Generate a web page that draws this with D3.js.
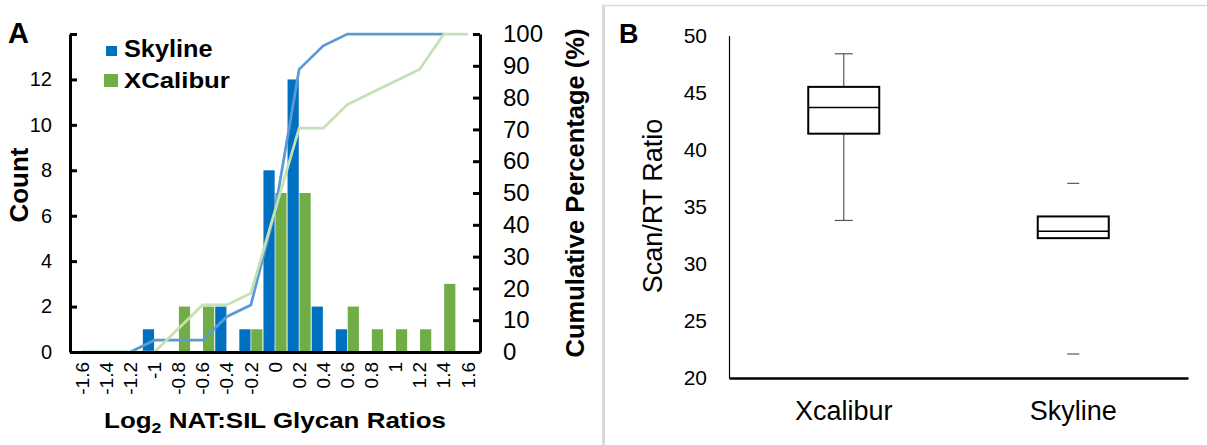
<!DOCTYPE html>
<html>
<head>
<meta charset="utf-8">
<script src="https://cdn.jsdelivr.net/npm/d3@7"></script>
<style>
  body { margin: 0; background: #fff; }
  svg { display: block; }
  text { font-family: "Liberation Sans", Arial, sans-serif; fill: #000; }
</style>
</head>
<body>
<div id="chart"></div>
<script>
// ---- data: panel A histogram ----
var bins = ["-1.6", "-1.4", "-1.2", "-1", "-0.8", "-0.6", "-0.4", "-0.2", "0",
            "0.2", "0.4", "0.6", "0.8", "1", "1.2", "1.4", "1.6"];
var skylineCounts  = [0, 0, 0, 1, 0, 0, 2, 1, 8, 12, 2, 1, 0, 0, 0, 0, 0];
var xcaliburCounts = [0, 0, 0, 0, 2, 2, 0, 1, 7, 7, 0, 2, 1, 1, 1, 3, 0];
// cumulative percentage lines (Skyline line stops at 1.4)
var skylineCum  = [0, 0, 0, 3.7, 3.7, 3.7, 11.1, 14.8, 44.4, 88.9, 96.3, 100, 100, 100, 100, 100];
var xcaliburCum = [0, 0, 0, 0, 7.4, 14.8, 14.8, 18.5, 44.4, 70.4, 70.4, 77.8, 81.5, 85.2, 88.9, 100, 100];
var countTicks = [0, 2, 4, 6, 8, 10, 12, 14];
var pctTicks = [0, 10, 20, 30, 40, 50, 60, 70, 80, 90, 100];

// ---- data: panel B box plot ----
var boxGroups = ["Xcalibur", "Skyline"];
var boxMin    = [33.8, 22.1];
var boxQ1     = [41.4, 32.25];
var boxMedian = [43.7, 32.85];
var boxQ3     = [45.5, 34.15];
var boxMax    = [48.4, 37.05];
var ratioTicks = [20, 25, 30, 35, 40, 45, 50];

var svgWidth = 1207;
var svgHeight = 445;

var svg = d3.select("#chart")
  .append("svg")
  .attr("width", svgWidth)
  .attr("height", svgHeight);

// panel separator
svg.append("line")
  .attr("x1", 603.5).attr("x2", 603.5).attr("y1", 5).attr("y2", 445)
  .attr("stroke", "#d9d9d9").attr("stroke-width", 3);
svg.append("line")
  .attr("x1", 603).attr("x2", 1207).attr("y1", 5.5).attr("y2", 5.5)
  .attr("stroke", "#d9d9d9").attr("stroke-width", 1.5);

// ================= Panel A =================
var x = d3.scaleBand().domain(bins).range([70, 480]);
var bw = x.bandwidth();
var xSub = d3.scaleBand().domain(["Skyline", "XCalibur"]).range([0.5, bw - 0.5]).paddingInner(0.06);
var yCount = d3.scaleLinear().domain([0, 14]).range([352, 34]);
var yPct = d3.scaleLinear().domain([0, 100]).range([352, 34]);

var barData = [];
bins.forEach(function(b, i) {
  barData.push({ bin: b, series: "Skyline", value: skylineCounts[i], color: "#0070c0" });
  barData.push({ bin: b, series: "XCalibur", value: xcaliburCounts[i], color: "#70ad47" });
});

svg.append("g").selectAll("rect")
  .data(barData.filter(d => d.value > 0))
  .enter()
  .append("rect")
  .attr("x", d => x(d.bin) + xSub(d.series))
  .attr("width", xSub.bandwidth())
  .attr("y", d => yCount(d.value))
  .attr("height", d => yCount(0) - yCount(d.value))
  .attr("fill", d => d.color);

// cumulative lines
var line = d3.line()
  .x((d, i) => x(bins[i]) + bw / 2)
  .y(d => yPct(d));

svg.append("path")
  .datum(skylineCum)
  .attr("d", line)
  .attr("fill", "none")
  .attr("stroke", "#5b9bd5")
  .attr("stroke-width", 2.75);
svg.append("path")
  .datum(xcaliburCum)
  .attr("d", line)
  .attr("fill", "none")
  .attr("stroke", "#c5e0b4")
  .attr("stroke-width", 2.75);

// left axis (Count)
var leftAxis = d3.axisLeft(yCount)
  .tickValues(countTicks)
  .tickSizeInner(-7)
  .tickSizeOuter(0)
  .tickPadding(18)
  .tickFormat(d => d === 14 ? "" : d);
var gl = svg.append("g")
  .attr("transform", "translate(70,0)")
  .call(leftAxis);
gl.select(".domain").attr("stroke", "#000").attr("stroke-width", 3);
gl.selectAll(".tick line").attr("stroke", "#000").attr("stroke-width", 3);
gl.selectAll(".tick text").attr("font-size", 20).attr("font-family", "Liberation Sans, Arial, sans-serif");

// right axis (Cumulative %)
var rightAxis = d3.axisRight(yPct)
  .tickValues(pctTicks)
  .tickSizeInner(-7)
  .tickSizeOuter(0)
  .tickPadding(23);
var gr = svg.append("g")
  .attr("transform", "translate(480,0)")
  .call(rightAxis);
gr.select(".domain").attr("stroke", "#000").attr("stroke-width", 3);
gr.selectAll(".tick line").attr("stroke", "#000").attr("stroke-width", 3);
gr.selectAll(".tick text").attr("font-size", 24).attr("font-family", "Liberation Sans, Arial, sans-serif");

// bottom axis
var bottomAxis = d3.axisBottom(x).tickSize(0);
var gb = svg.append("g")
  .attr("transform", "translate(0,352)")
  .call(bottomAxis);
gb.select(".domain").attr("stroke", "#000").attr("stroke-width", 3);
gb.selectAll(".tick text")
  .attr("font-size", 19)
  .attr("font-family", "Liberation Sans, Arial, sans-serif")
  .attr("transform", "rotate(-90)")
  .attr("text-anchor", "end")
  .attr("x", -10)
  .attr("y", 0)
  .attr("dy", "0.35em");

// legend
svg.append("rect").attr("x", 106).attr("y", 46).attr("width", 11).attr("height", 10).attr("fill", "#0070c0");
svg.append("rect").attr("x", 104).attr("y", 74).attr("width", 14).attr("height", 13).attr("fill", "#70ad47");
svg.append("text")
  .attr("transform", "translate(124,57) scale(1.1,1)")
  .attr("font-size", 23).attr("font-weight", "bold")
  .text("Skyline");
svg.append("text")
  .attr("transform", "translate(124,88) scale(1.12,1)")
  .attr("font-size", 23).attr("font-weight", "bold")
  .text("XCalibur");

// labels
svg.append("text")
  .attr("x", 8).attr("y", 43)
  .attr("font-size", 29).attr("font-weight", "bold")
  .text("A");

svg.append("text")
  .attr("transform", "translate(28,185) rotate(-90)")
  .attr("text-anchor", "middle")
  .attr("font-size", 26).attr("font-weight", "bold")
  .text("Count");

svg.append("text")
  .attr("transform", "translate(584,193) rotate(-90)")
  .attr("text-anchor", "middle")
  .attr("font-size", 25.5).attr("font-weight", "bold")
  .text("Cumulative Percentage (%)");

var xTitle = svg.append("text")
  .attr("transform", "translate(275,428) scale(1.18,1)")
  .attr("text-anchor", "middle")
  .attr("font-size", 22).attr("font-weight", "bold");
xTitle.append("tspan").text("Log");
xTitle.append("tspan").attr("font-size", 15).attr("dy", 5).text("2");
xTitle.append("tspan").attr("dy", -5).text(" NAT:SIL Glycan Ratios");

// ================= Panel B =================
var xB = d3.scaleBand().domain(boxGroups).range([729, 1188]);
var yR = d3.scaleLinear().domain([20, 50]).range([378, 35.5]);
var boxW = 71;

var boxData = boxGroups.map(function(g, i) {
  return { group: g, min: boxMin[i], q1: boxQ1[i], med: boxMedian[i], q3: boxQ3[i], max: boxMax[i],
           cap: i === 0 ? 18 : 12 };
});

var boxG = svg.append("g").selectAll("g")
  .data(boxData)
  .enter()
  .append("g")
  .attr("transform", d => `translate(${xB(d.group) + xB.bandwidth() / 2},0)`);

// whisker stems (the Skyline stems don't show in the original)
boxG.filter(d => d.group === "Xcalibur").append("line")
  .attr("x1", 0).attr("x2", 0)
  .attr("y1", d => yR(d.max)).attr("y2", d => yR(d.q3))
  .attr("stroke", "#595959").attr("stroke-width", 1.2);
boxG.filter(d => d.group === "Xcalibur").append("line")
  .attr("x1", 0).attr("x2", 0)
  .attr("y1", d => yR(d.q1)).attr("y2", d => yR(d.min))
  .attr("stroke", "#595959").attr("stroke-width", 1.2);
// caps
boxG.append("line")
  .attr("x1", d => -d.cap / 2).attr("x2", d => d.cap / 2)
  .attr("y1", d => yR(d.max)).attr("y2", d => yR(d.max))
  .attr("stroke", "#595959").attr("stroke-width", 1.2);
boxG.append("line")
  .attr("x1", d => -d.cap / 2).attr("x2", d => d.cap / 2)
  .attr("y1", d => yR(d.min)).attr("y2", d => yR(d.min))
  .attr("stroke", "#595959").attr("stroke-width", 1.2);
// box
boxG.append("rect")
  .attr("x", -boxW / 2)
  .attr("width", boxW)
  .attr("y", d => yR(d.q3))
  .attr("height", d => yR(d.q1) - yR(d.q3))
  .attr("fill", "#fff")
  .attr("stroke", "#000")
  .attr("stroke-width", 2);
boxG.append("line")
  .attr("x1", -boxW / 2).attr("x2", boxW / 2)
  .attr("y1", d => yR(d.med)).attr("y2", d => yR(d.med))
  .attr("stroke", "#000").attr("stroke-width", 1.5);

// axes B
var gbl = svg.append("g")
  .attr("transform", "translate(729,0)")
  .call(d3.axisLeft(yR).tickValues(ratioTicks).tickSize(0).tickPadding(22));
gbl.select(".domain").attr("stroke", "#000").attr("stroke-width", 1.2);
gbl.selectAll(".tick text").attr("font-size", 21).attr("font-family", "DejaVu Sans, sans-serif");

var gbb = svg.append("g")
  .attr("transform", "translate(0,378)")
  .call(d3.axisBottom(xB).tickSize(0).tickPadding(23));
gbb.select(".domain").attr("stroke", "#000").attr("stroke-width", 2.5);
gbb.selectAll(".tick text").attr("font-size", 27).attr("font-family", "DejaVu Sans, sans-serif");

svg.append("text")
  .attr("transform", "translate(662,206) rotate(-90)")
  .attr("text-anchor", "middle")
  .attr("font-size", 27)
  .attr("font-family", "DejaVu Sans, sans-serif")
  .text("Scan/RT Ratio");

svg.append("text")
  .attr("x", 619).attr("y", 43)
  .attr("font-size", 27).attr("font-weight", "bold")
  .text("B");
</script>
</body>
</html>
